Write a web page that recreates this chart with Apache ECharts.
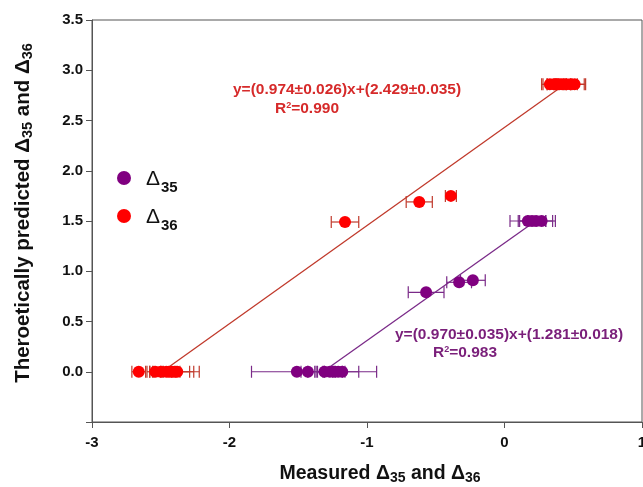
<!DOCTYPE html>
<html>
<head>
<meta charset="utf-8">
<script src="https://cdn.jsdelivr.net/npm/echarts@6/dist/echarts.min.js"></script>
<style>
  html, body { margin: 0; padding: 0; background: #fff; }
  #chart { width: 643px; height: 487px; }
</style>
</head>
<body>
<div id="chart"></div>
<script>
// measured value, predicted value, x error  (Δ35 = purple, Δ36 = red)
const d35X = [-1.51, -1.43, -1.31, -1.27, -1.24, -1.21, -1.18, -0.57, -0.33, -0.23, 0.17, 0.20, 0.23, 0.27];
const d35Y = [0, 0, 0, 0, 0, 0, 0, 0.79, 0.89, 0.91, 1.5, 1.5, 1.5, 1.5];
const d35Err = [0.33, 0.05, 0.06, 0.04, 0.08, 0.15, 0.25, 0.13, 0.09, 0.09, 0.13, 0.10, 0.12, 0.10];

const d36X = [-2.66, -2.54, -2.50, -2.46, -2.44, -2.42, -2.40, -2.38, -1.16, -0.62, -0.39, 0.33, 0.36, 0.38, 0.40, 0.42, 0.45, 0.48, 0.51];
const d36Y = [0, 0, 0, 0, 0, 0, 0, 0, 1.49, 1.69, 1.75, 2.86, 2.86, 2.86, 2.86, 2.86, 2.86, 2.86, 2.86];
const d36Err = [0.05, 0.06, 0.08, 0.10, 0.05, 0.13, 0.18, 0.12, 0.10, 0.095, 0.04, 0.06, 0.08, 0.07, 0.09, 0.06, 0.08, 0.10, 0.08];

// fitted lines, end points
const fit35 = [[-1.32, 0], [0.226, 1.5]];
const fit36 = [[-2.49, 0], [0.44, 2.86]];

const eq35 = ["y=(0.970±0.035)x+(1.281±0.018)", "R{sup|2}=0.983"];
const eq36 = ["y=(0.974±0.026)x+(2.429±0.035)", "R{sup|2}=0.990"];

const xTicks = { min: -3, max: 1, interval: 1 };
const yTicks = { min: -0.5, max: 3.5, interval: 0.5 };

const purple = "#800080";
const purpleLine = "#7a2a88";
const red = "#ff0000";
const redLine = "#c0392b";

function zip(xs, ys, es) {
  return xs.map((x, i) => es ? [x, ys[i], es[i]] : [x, ys[i]]);
}

function errorBars(color) {
  return function (params, api) {
    const x = api.value(0), y = api.value(1), e = api.value(2);
    const a = api.coord([x - e, y]);
    const b = api.coord([x + e, y]);
    const cap = 6;
    const style = { stroke: color, lineWidth: 1.2 };
    return {
      type: "group",
      children: [
        { type: "line", shape: { x1: a[0], y1: a[1], x2: b[0], y2: b[1] }, style: style },
        { type: "line", shape: { x1: a[0], y1: a[1] - cap, x2: a[0], y2: a[1] + cap }, style: style },
        { type: "line", shape: { x1: b[0], y1: b[1] - cap, x2: b[0], y2: b[1] + cap }, style: style }
      ]
    };
  };
}

function eqText(x, y, text, color) {
  return {
    type: "text", x: x, y: y,
    style: {
      text: text, fill: color, font: "bold 15.5px 'Liberation Sans'", verticalAlign: "middle",
      rich: { sup: { fontSize: 9, fontWeight: "bold", fill: color, verticalAlign: "top", padding: [0, 0, 7, 0] } }
    }
  };
}

const myChart = echarts.init(document.getElementById("chart"));

const subRich = {
  d: { fontSize: 21, fontFamily: "Liberation Sans", color: "#111", verticalAlign: "bottom", lineHeight: 24 },
  s: { fontSize: 15, fontWeight: "bold", fontFamily: "Liberation Sans", color: "#111", verticalAlign: "bottom", padding: [0, 0, -5, 1], lineHeight: 24 }
};

const titleRich = {
  t: { fontSize: 19.5, fontWeight: "bold", fontFamily: "Liberation Sans", color: "#111" },
  s: { fontSize: 14, fontWeight: "bold", fontFamily: "Liberation Sans", color: "#111", padding: [0, 0, -8, 0] }
};

const yTitleRich = {
  t: { fontSize: 20.5, fontWeight: "bold", fontFamily: "Liberation Sans", color: "#111" },
  s: { fontSize: 14.5, fontWeight: "bold", fontFamily: "Liberation Sans", color: "#111", padding: [0, 0, -8, 0] }
};

const option = {
  animation: false,
  grid: {
    left: 92, right: 1, top: 20, bottom: 65,
    outerBoundsMode: "none",
    show: true, borderColor: "#555", borderWidth: 1
  },
  legend: {
    orient: "vertical",
    left: 112,
    top: 164,
    itemGap: 12,
    itemWidth: 14,
    itemHeight: 14,
    data: ["Δ35", "Δ36"],
    formatter: function (name) {
      return "{d|Δ}{s|" + name.slice(1) + "}";
    },
    textStyle: { rich: subRich, padding: [0, 0, 0, 10] }
  },
  xAxis: {
    type: "value",
    min: xTicks.min, max: xTicks.max, interval: xTicks.interval,
    splitLine: { show: false },
    axisLine: { onZero: false, lineStyle: { color: "#555" } },
    axisTick: { show: true, length: 6, lineStyle: { color: "#555" } },
    axisLabel: { color: "#111", fontSize: 15, fontWeight: "bold", fontFamily: "Liberation Sans", margin: 13 },
    name: "{t|Measured Δ}{s|35}{t| and Δ}{s|36}",
    nameLocation: "middle",
    nameGap: 42,
    nameTextStyle: { rich: titleRich, padding: [0, 0, 0, 26] }
  },
  yAxis: {
    type: "value",
    min: yTicks.min, max: yTicks.max, interval: yTicks.interval,
    splitLine: { show: false },
    axisLine: { onZero: false, lineStyle: { color: "#555" } },
    axisTick: { show: true, length: 6, lineStyle: { color: "#555" } },
    axisLabel: {
      color: "#111", fontSize: 15, fontWeight: "bold", fontFamily: "Liberation Sans", margin: 9,
      formatter: function (v) { return v < 0 ? "" : v.toFixed(1); }
    },
    name: "{t|Theroetically predicted Δ}{s|35}{t| and Δ}{s|36}",
    nameLocation: "middle",
    nameGap: 58,
    nameRotate: 90,
    nameTextStyle: { rich: yTitleRich, padding: [0, 0, 0, 16] }
  },
  series: [
    {
      name: "fit35", type: "line", data: fit35, symbol: "none",
      lineStyle: { color: purpleLine, width: 1.3 }, z: 1
    },
    {
      name: "fit36", type: "line", data: fit36, symbol: "none",
      lineStyle: { color: redLine, width: 1.3 }, z: 1
    },
    {
      name: "err35", type: "custom", renderItem: errorBars("#7a2a88"),
      data: zip(d35X, d35Y, d35Err), encode: { x: 0, y: 1 }, z: 2
    },
    {
      name: "err36", type: "custom", renderItem: errorBars("#c0392b"),
      data: zip(d36X, d36Y, d36Err), encode: { x: 0, y: 1 }, z: 2
    },
    {
      name: "Δ35", type: "scatter", data: zip(d35X, d35Y), symbolSize: 12,
      itemStyle: { color: purple, opacity: 1 }, z: 3
    },
    {
      name: "Δ36", type: "scatter", data: zip(d36X, d36Y), symbolSize: 12,
      itemStyle: { color: red, opacity: 1 }, z: 3
    }
  ],
  graphic: [
    eqText(233, 90, eq36[0], "#d62a2a"),
    eqText(275, 109, eq36[1], "#d62a2a"),
    eqText(395, 335, eq35[0], "#7a1f7a"),
    eqText(433, 353, eq35[1], "#7a1f7a")
  ]
};

myChart.setOption(option, true);

window.addEventListener("resize", () => {
  myChart.resize();
});
</script>
</body>
</html>
